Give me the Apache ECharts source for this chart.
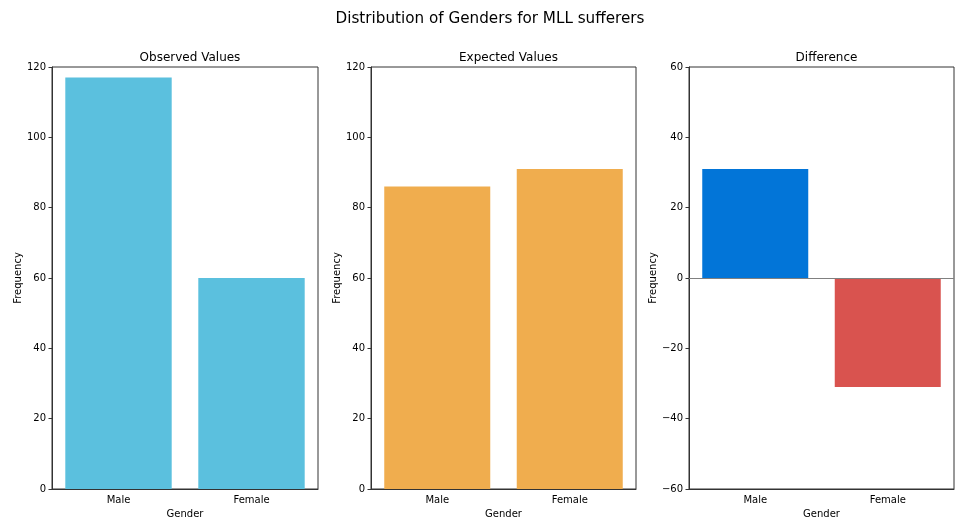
<!DOCTYPE html>
<html>
<head>
<meta charset="utf-8">
<script src="https://cdn.jsdelivr.net/npm/echarts@6/dist/echarts.min.js"></script>
<style>html,body{margin:0;padding:0;background:#fff}#c{width:955px;height:523px}</style>
</head>
<body>
<div id="c"></div>
<script>
const categories = ['Male', 'Female'];
const observed = [117, 60];
const expected = [86, 91];
const difference = [31, -31];
const panelTitles = ['Observed Values', 'Expected Values', 'Difference'];
const mainTitle = 'Distribution of Genders for MLL sufferers';

const FONT = 'DejaVu Sans';
const grids = [
  {left: 52, top: 67, width: 266, height: 422},
  {left: 371, top: 67, width: 265, height: 422},
  {left: 689, top: 67, width: 265, height: 422}
];
const chart = echarts.init(document.getElementById('c'), null, {renderer: 'canvas'});

const xAxes = grids.map((g, i) => ({
  type: 'category', gridIndex: i, data: categories,
  name: 'Gender', nameLocation: 'middle', nameGap: 20,
  nameTextStyle: {fontFamily: FONT, fontSize: 10, color: '#000'},
  axisLine: {onZero: false, lineStyle: {color: '#333', width: 1}},
  axisTick: {alignWithLabel: true, length: 3.5, lineStyle: {color: '#333'}},
  axisLabel: {fontFamily: FONT, fontSize: 10, color: '#000', margin: 6},
  splitLine: {show: false}
}));
const yAxes = grids.map((g, i) => ({
  type: 'value', gridIndex: i,
  min: i === 2 ? -60 : 0, max: i === 2 ? 60 : 120, interval: 20,
  name: 'Frequency', nameLocation: 'middle', nameGap: 25,
  nameTextStyle: {fontFamily: FONT, fontSize: 10, color: '#000'},
  axisLine: {show: true, lineStyle: {color: '#333', width: 1}},
  axisTick: {show: true, length: 3.5, lineStyle: {color: '#333'}},
  axisLabel: {fontFamily: FONT, fontSize: 10, color: '#000', margin: 6,
    formatter: v => (v < 0 ? '\u2212' + Math.abs(v) : String(v))},
  splitLine: {show: false}
}));

const barCommon = {type: 'bar', barCategoryGap: '20%'};
const series = [
  Object.assign({}, barCommon, {xAxisIndex: 0, yAxisIndex: 0, data: observed,
    itemStyle: {color: '#5bc0de'}}),
  Object.assign({}, barCommon, {xAxisIndex: 1, yAxisIndex: 1, data: expected,
    itemStyle: {color: '#f0ad4e'}}),
  Object.assign({}, barCommon, {xAxisIndex: 2, yAxisIndex: 2,
    data: difference.map(v => ({value: v, itemStyle: {color: v >= 0 ? '#0275d8' : '#d9534f'}})),
    markLine: {silent: true, symbol: 'none', label: {show: false},
      lineStyle: {color: '#808080', width: 1, type: 'solid'},
      data: [{yAxis: 0}]}})
];

const titles = [{text: mainTitle, left: 485, top: 7, textAlign: 'center',
  textStyle: {fontFamily: FONT, fontSize: 15.2, fontWeight: 'normal', color: '#000'}}];
grids.forEach((g, i) => titles.push({
  text: panelTitles[i], left: g.left + g.width / 2, top: 47, textAlign: 'center',
  textStyle: {fontFamily: FONT, fontSize: 12, fontWeight: 'normal', color: '#000'}
}));

chart.setOption({
  animation: false,
  backgroundColor: '#fff',
  title: titles,
  grid: grids.map(g => Object.assign({show: true, borderColor: '#333', borderWidth: 1,
    containLabel: false, outerBoundsMode: 'none'}, g)),
  xAxis: xAxes,
  yAxis: yAxes,
  series: series
});
</script>
</body>
</html>
